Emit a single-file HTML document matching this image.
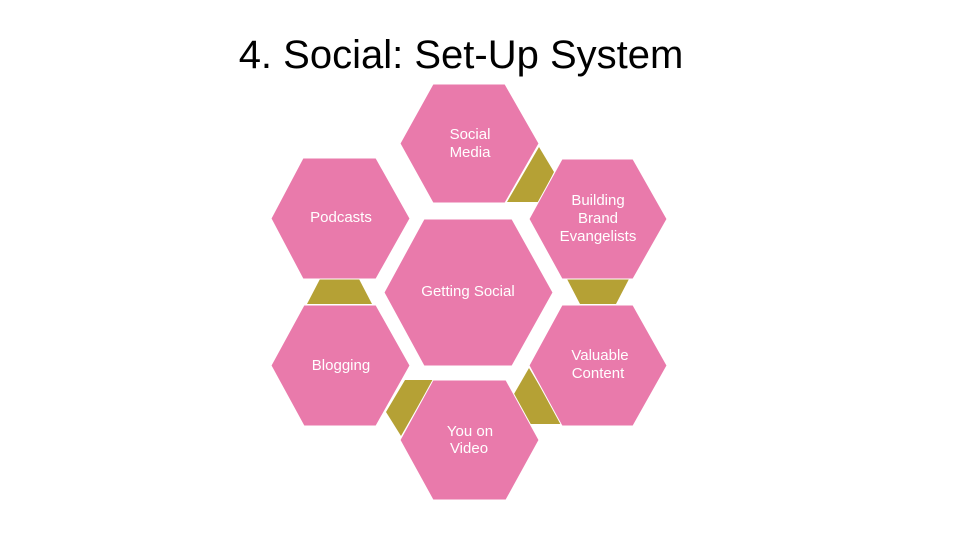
<!DOCTYPE html>
<html><head><meta charset="utf-8"><style>
html,body{margin:0;padding:0;background:#fff;}
svg{display:block;}
text{font-family:"Liberation Sans",Arial,sans-serif;fill:#fff;font-size:15px;text-anchor:middle;}
</style></head><body>
<svg width="960" height="540" viewBox="0 0 960 540" xmlns="http://www.w3.org/2000/svg">
<text x="461" y="68" style="fill:#000;font-size:40px;">4. Social: Set-Up System</text>
<g fill="#B5A135">
<polygon points="539,147 554,172 539,202 507,202"/>
<polygon points="320,279 359,279 372,304 307,304"/>
<polygon points="567,279 629,279 616,304 580,304"/>
<polygon points="405,380 433,380 401,436 386,412"/>
<polygon points="529,368 514,394 530,424 562,424"/>
</g>
<g fill="#E97AAB" stroke="#fff" stroke-width="1">
<polygon points="433,84 505,84 539,143.5 505,203 433,203 400,143.5"/>
<polygon points="303,158 376,158 410,218.5 376,279 303,279 271,218.5"/>
<polygon points="562,159 633,159 667,219 633,279 562,279 529,219"/>
<polygon points="424,219 512,219 553,292.5 512,366 424,366 384,292.5"/>
<polygon points="304,305 376,305 410,365.5 376,426 304,426 271,365.5"/>
<polygon points="562,305 633,305 667,365.5 633,426 562,426 529,365.5"/>
<polygon points="433,380 506,380 539,440 506,500 433,500 400,440"/>
</g>
<text x="470" y="139">Social</text>
<text x="470" y="157">Media</text>
<text x="341" y="222">Podcasts</text>
<text x="598" y="205">Building</text>
<text x="598" y="223">Brand</text>
<text x="598" y="241">Evangelists</text>
<text x="468" y="296">Getting Social</text>
<text x="341" y="370">Blogging</text>
<text x="600" y="360">Valuable</text>
<text x="598" y="378">Content</text>
<text x="470" y="436">You on</text>
<text x="469" y="453">Video</text>
</svg>
</body></html>
